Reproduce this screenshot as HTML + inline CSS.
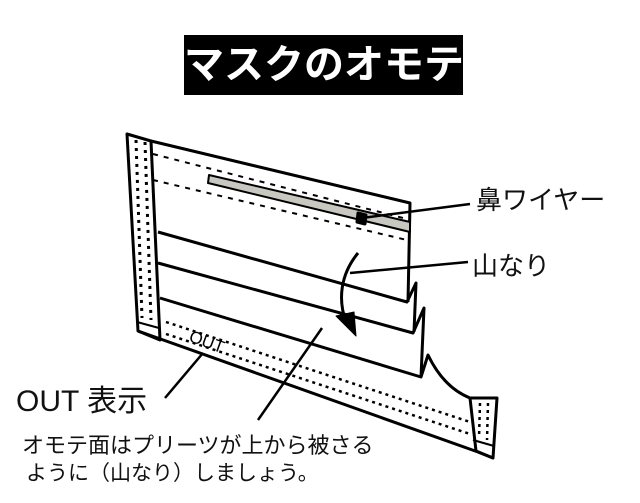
<!DOCTYPE html>
<html><head><meta charset="utf-8"><style>
html,body{margin:0;padding:0;background:#fff;}
body{width:640px;height:503px;overflow:hidden;position:relative;font-family:"Liberation Sans","Noto Sans CJK JP",sans-serif;}
.t{position:absolute;white-space:nowrap;color:#111;}
</style></head><body>
<div style="position:absolute;left:184px;top:35px;width:279px;height:60px;background:#000;"></div>
<div class="t" style="left:184px;top:38px;width:279px;text-align:center;color:#fff;font-size:40px;font-weight:bold;line-height:54px;">マスクのオモテ</div>
<svg width="640" height="503" style="position:absolute;left:0;top:0" xmlns="http://www.w3.org/2000/svg">
<g fill="none" stroke="#000" stroke-width="3" stroke-linejoin="round">
<path d="M127,134 L151,141 L160,340 L138,331 Z" fill="#fff"/>
<line x1="137" y1="322" x2="159" y2="328" stroke-width="2"/>
<line x1="136" y1="140" x2="142" y2="318" stroke-dasharray="3,5" stroke-width="3"/>
<line x1="145" y1="142" x2="151" y2="320" stroke-dasharray="3,5" stroke-width="3"/>
<path d="M151,141 L410,203 L408,302"/>
<path d="M158,232 L407,302 L416,283 L414,332"/>
<path d="M158,263 L413,333 L424,308 L421,377"/>
<path d="M160,298 L421,377 L428,355 C440,380 455,392 470,398"/>
<path d="M138,331 L478,452 L493,458"/>
<path d="M470,398 L497,398 L493,458 L476,451 L470,398"/>
<line x1="473" y1="440" x2="494" y2="446" stroke-width="2"/>
<line x1="480" y1="403" x2="479" y2="438" stroke-dasharray="3,4" stroke-width="2.5"/>
<line x1="488" y1="403" x2="487" y2="440" stroke-dasharray="3,4" stroke-width="2.5"/>
<line x1="166" y1="322" x2="470" y2="422" stroke-dasharray="3,4" stroke-width="2.5"/>
<line x1="166" y1="334" x2="470" y2="434" stroke-dasharray="3,4" stroke-width="2.5"/>
<line x1="153" y1="154" x2="407" y2="219" stroke-dasharray="5,6" stroke-width="2"/>
<line x1="153" y1="180" x2="407" y2="240" stroke-dasharray="5,6" stroke-width="2"/>
<path d="M209,175 L410,222 L410,232 L208,183 Z" fill="#c8c8c0" stroke-width="2"/>
<path d="M358,213 L366,215 L365,224 L357,222 Z" fill="#000"/>
<line x1="362" y1="218" x2="470" y2="204" stroke-width="2.5"/>
<line x1="350" y1="273" x2="468" y2="262" stroke-width="2.5"/>
<path d="M358,253 C340,275 338,300 346,322" stroke-width="3"/>
<path d="M336,316 L356,336 L354,312 Z" fill="#000" stroke-width="1"/>
<path d="M203,353 L165,398" stroke-width="2.5"/>
<line x1="322" y1="328" x2="258" y2="420" stroke-width="2.5"/>
</g>
<text x="188" y="341" font-family="Liberation Sans" font-size="17" transform="rotate(20 188 341)">OUT</text>
</svg>
<div class="t" style="left:476px;top:180px;font-size:26px;">鼻ワイヤー</div>
<div class="t" style="left:472px;top:246px;font-size:26px;">山なり</div>
<div class="t" style="left:16px;top:376px;font-size:30px;">OUT 表示</div>
<div class="t" style="left:22px;top:428px;font-size:22px;">オモテ面はプリーツが上から被さる</div>
<div class="t" style="left:26px;top:457px;font-size:21px;">ように（山なり）しましょう。</div>
</body></html>
